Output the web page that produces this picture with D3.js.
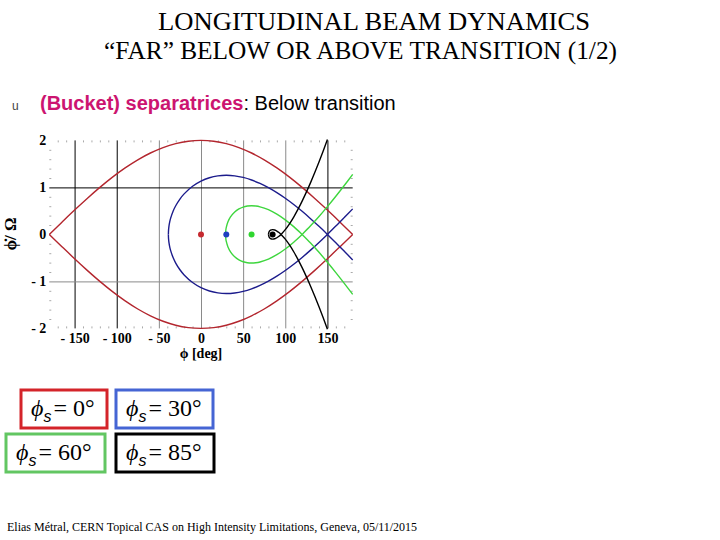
<!DOCTYPE html>
<html>
<head>
<meta charset="utf-8">
<script src="https://cdn.jsdelivr.net/npm/d3@7"></script>
<style>
  body { margin: 0; background: #fff; }
  svg { display: block; }
</style>
</head>
<body>
<svg width="720" height="540"></svg>
<script>
// values
const phiTicks = [-150, -100, -50, 0, 50, 100, 150];
const phiTickLabels = ["- 150", "- 100", "- 50", "0", "50", "100", "150"];
const dotTicks = [2, 1, 0, -1, -2];
const dotTickLabels = ["2", "1", "0", "- 1", "- 2"];

const phiS = [0, 30, 60, 85];
const legendLabels = ["0°", "30°", "60°", "85°"];

// upper half of each separatrix: [phi in deg, phidot / Omega]
const redLoop = [[-180, 0], [-165, 0.261], [-150, 0.518], [-135, 0.765], [-120, 1.0], [-105, 1.218],
  [-90, 1.414], [-75, 1.587], [-60, 1.732], [-45, 1.848], [-30, 1.932], [-15, 1.983], [0, 2],
  [15, 1.983], [30, 1.932], [45, 1.848], [60, 1.732], [75, 1.587], [90, 1.414], [105, 1.218],
  [120, 1.0], [135, 0.765], [150, 0.518], [165, 0.261], [180, 0]];
const redTail = [];

const blueLoop = [[-38.7, 0], [-38.5, 0.091], [-38, 0.175], [-37, 0.275], [-36, 0.346], [-33, 0.499],
  [-30, 0.610], [-25, 0.752], [-20, 0.862], [-10, 1.024], [0, 1.134], [10, 1.205], [20, 1.245],
  [30, 1.258], [40, 1.246], [50, 1.212], [60, 1.158], [70, 1.085], [80, 0.995], [90, 0.889],
  [100, 0.769], [110, 0.636], [120, 0.491], [130, 0.335], [140, 0.171], [150, 0]];
const blueTail = [[150, 0], [160, 0.177], [170, 0.359], [180, 0.543]];

const greenLoop = [[29.1, 0], [29.5, 0.099], [30, 0.150], [32, 0.268], [35, 0.371], [40, 0.477],
  [45, 0.542], [50, 0.582], [55, 0.604], [60, 0.610], [65, 0.604], [70, 0.587], [80, 0.525],
  [90, 0.431], [100, 0.310], [110, 0.165], [120, 0]];
const greenTail = [[120, 0], [130, 0.183], [140, 0.381], [150, 0.592], [160, 0.812], [170, 1.041], [180, 1.276]];

const blackLoop = [[80, 0], [81, 0.063], [82.5, 0.089], [85, 0.101], [87.5, 0.093], [90, 0.071],
  [92.5, 0.040], [95, 0]];
const blackTail = [[95, 0], [100, 0.101], [105, 0.225], [110, 0.369], [115, 0.531], [120, 0.708],
  [125, 0.899], [130, 1.102], [135, 1.316], [140, 1.541], [145, 1.775], [150, 2.018]];

// drawing
const svg = d3.select("svg");
const serif = "'Liberation Serif', 'Times New Roman', serif";
const sans = "'Liberation Sans', Arial, sans-serif";

const x = d3.scaleLinear().domain([-180, 180]).range([49.3, 352.7]);
const y = d3.scaleLinear().domain([-2, 2]).range([328.4, 140.4]);

const series = [
  {loop: redLoop, tail: redTail, line: "#b3262e", dot: "#c62a30", box: "#d4242a"},
  {loop: blueLoop, tail: blueTail, line: "#1c1c8c", dot: "#1f3fc0", box: "#4565d4"},
  {loop: greenLoop, tail: greenTail, line: "#3ed63e", dot: "#2fd62f", box: "#62c662"},
  {loop: blackLoop, tail: blackTail, line: "#000000", dot: "#000000", box: "#000000"}
];

// titles
svg.append("text").attr("x", 158).attr("y", 30)
  .attr("font-family", serif).attr("font-size", 26)
  .attr("textLength", 432).attr("lengthAdjust", "spacingAndGlyphs")
  .text("LONGITUDINAL BEAM DYNAMICS");
svg.append("text").attr("x", 104).attr("y", 59)
  .attr("font-family", serif).attr("font-size", 26)
  .attr("textLength", 513).attr("lengthAdjust", "spacingAndGlyphs")
  .text("\u201CFAR\u201D BELOW OR ABOVE TRANSITION (1/2)");

svg.append("text").attr("x", 12).attr("y", 110)
  .attr("font-family", sans).attr("font-size", 12).attr("fill", "#444").text("u");
const sub = svg.append("text").attr("x", 40).attr("y", 110)
  .attr("font-family", sans).attr("font-size", 20);
sub.append("tspan").attr("font-weight", "bold").attr("fill", "#cc1470").text("(Bucket) separatrices");
sub.append("tspan").attr("fill", "#000").text(": Below transition");

// grid
const plotH = y(-2) - y(2);
const plotW = x(180) - x(-180);
const strong = [-150, -100, 150];

const vGrid = svg.append("g").attr("transform", `translate(0,${y(-2)})`)
  .call(d3.axisBottom(x).tickValues(phiTicks).tickSize(-plotH).tickFormat(""));
vGrid.select(".domain").remove();
vGrid.selectAll(".tick line").attr("stroke", d => strong.includes(d) ? "#000" : "#8a8a8a");

const hGrid = svg.append("g").attr("transform", `translate(${x(-180)},0)`)
  .call(d3.axisLeft(y).tickValues([1, -1]).tickSize(-plotW).tickFormat(""));
hGrid.select(".domain").remove();
hGrid.selectAll(".tick line").attr("stroke", d => d > 0 ? "#000" : "#8a8a8a");

// faint minor ticks on the frame
const minorPhi = d3.range(-170, 180, 10).filter(d => d % 50 !== 0);
const minorDot = d3.range(-1.8, 1.9, 0.2).filter(d => Math.abs(d - Math.round(d)) > 0.05);
[[d3.axisTop(x), y(2)], [d3.axisBottom(x), y(-2)]].forEach(([ax, pos]) => {
  const g = svg.append("g").attr("transform", `translate(0,${pos})`)
    .call(ax.tickValues(minorPhi).tickSize(-2).tickFormat(""));
  g.select(".domain").remove();
  g.selectAll(".tick line").attr("stroke", "#aaa");
});
[[d3.axisLeft(y), x(-180)], [d3.axisRight(y), x(180)]].forEach(([ax, pos]) => {
  const g = svg.append("g").attr("transform", `translate(${pos},0)`)
    .call(ax.tickValues(minorDot).tickSize(-2).tickFormat(""));
  g.select(".domain").remove();
  g.selectAll(".tick line").attr("stroke", "#aaa");
});

// tick labels
const xAxis = svg.append("g").attr("transform", `translate(0,${y(-2)})`)
  .call(d3.axisBottom(x).tickValues(phiTicks).tickSize(0).tickPadding(5)
    .tickFormat((d, i) => phiTickLabels[i]));
xAxis.select(".domain").remove();
xAxis.selectAll("text").attr("font-family", serif).attr("font-size", 14)
  .attr("font-weight", "bold").attr("fill", "#000");

const yAxis = svg.append("g").attr("transform", `translate(${x(-180)},0)`)
  .call(d3.axisLeft(y).tickValues(dotTicks).tickSize(0).tickPadding(3)
    .tickFormat((d, i) => dotTickLabels[i]));
yAxis.select(".domain").remove();
yAxis.selectAll("text").attr("font-family", serif).attr("font-size", 14)
  .attr("font-weight", "bold").attr("fill", "#000");

svg.append("text").attr("x", 201).attr("y", 358).attr("text-anchor", "middle")
  .attr("font-family", serif).attr("font-size", 14).attr("font-weight", "bold")
  .text("\u03D5 [deg]");
svg.append("text").attr("transform", "translate(16,234) rotate(-90)").attr("text-anchor", "middle")
  .attr("font-family", serif).attr("font-size", 17).attr("font-weight", "bold")
  .text("\u03D5\u0307/ \u03A9");

// separatrices
svg.append("clipPath").attr("id", "plotclip").append("rect")
  .attr("x", x(-180) - 2).attr("y", y(2) - 1.5).attr("width", plotW + 4).attr("height", plotH + 3);

const upper = d3.line().x(d => x(d[0])).y(d => y(d[1])).curve(d3.curveCatmullRom.alpha(0.5));
const lower = d3.line().x(d => x(d[0])).y(d => y(-d[1])).curve(d3.curveCatmullRom.alpha(0.5));

const curves = svg.append("g").attr("clip-path", "url(#plotclip)");
series.forEach(s => {
  [s.loop, s.tail].filter(part => part.length).forEach(part => {
    curves.append("path").attr("d", upper(part)).attr("fill", "none")
      .attr("stroke", s.line).attr("stroke-width", 1.4);
    curves.append("path").attr("d", lower(part)).attr("fill", "none")
      .attr("stroke", s.line).attr("stroke-width", 1.4);
  });
});

svg.append("g").selectAll("circle").data(phiS).join("circle")
  .attr("cx", d => x(d)).attr("cy", y(0)).attr("r", 3)
  .attr("fill", (d, i) => series[i].dot);

// legend boxes
const legendBoxes = [
  {x: 21, y: 390, w: 86}, {x: 116, y: 390, w: 97},
  {x: 6, y: 434, w: 99}, {x: 116, y: 434, w: 98}
];
legendLabels.forEach((label, i) => {
  const b = legendBoxes[i];
  svg.append("rect").attr("x", b.x).attr("y", b.y).attr("width", b.w).attr("height", 38)
    .attr("fill", "none").attr("stroke", series[i].box).attr("stroke-width", 3);
  const t = svg.append("text").attr("x", b.x + 10).attr("y", b.y + 26)
    .attr("font-family", serif).attr("font-size", 24).attr("fill", "#000");
  t.append("tspan").attr("font-style", "italic").text("\u03D5");
  t.append("tspan").attr("font-style", "italic").attr("font-family", sans)
    .attr("font-size", 16).attr("dy", 6).text("s");
  t.append("tspan").attr("dy", -6).attr("dx", 2).text("= " + label);
});

// footer
svg.append("text").attr("x", 7).attr("y", 531)
  .attr("font-family", serif).attr("font-size", 12).attr("fill", "#000")
  .text("Elias Métral, CERN Topical CAS on High Intensity Limitations, Geneva, 05/11/2015");
</script>
</body>
</html>
